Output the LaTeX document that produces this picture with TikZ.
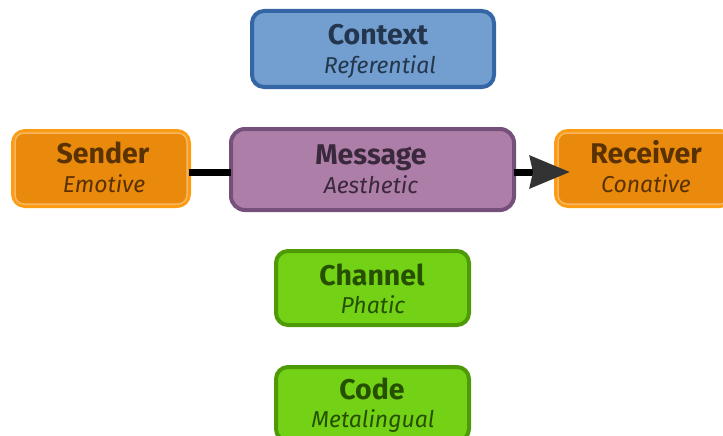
\documentclass[tikz,border=0pt]{standalone}
\usepackage{fontspec}
\setmainfont{Fira Sans}
\usetikzlibrary{arrows.meta,calc}
\definecolor{ctxfill}{RGB}{114,159,207}
\definecolor{ctxline}{RGB}{52,101,164}
\definecolor{ctxtext}{RGB}{36,54,78}
\definecolor{orfill}{RGB}{233,138,12}
\definecolor{orline}{RGB}{252,156,20}
\definecolor{orlight}{RGB}{248,182,96}
\definecolor{ortext}{RGB}{90,50,2}
\definecolor{msfill}{RGB}{173,127,168}
\definecolor{msline}{RGB}{117,80,123}
\definecolor{mstext}{RGB}{58,40,60}
\definecolor{grfill}{RGB}{115,210,22}
\definecolor{grline}{RGB}{78,154,6}
\definecolor{grtext}{RGB}{38,80,0}
\tikzset{
  x=1pt,y=1pt,
  box/.style={draw, line width=4pt, rounded corners=12pt, inner sep=0pt},
  ctxbox/.style={box, draw=ctxline, fill=ctxfill},
  orbox/.style={box, draw=orline, fill=orfill},
  msbox/.style={box, draw=msline, fill=msfill, rounded corners=14pt},
  grbox/.style={box, draw=grline, fill=grfill},
  inner/.style={draw=orlight, line width=1.5pt, rounded corners=9pt},
  ttl/.style={anchor=base, inner sep=0pt, font=\fontsize{28.5}{32}\selectfont\bfseries},
  sub/.style={anchor=base, inner sep=0pt, font=\fontsize{23}{27}\selectfont\itshape},
  conn/.style={line width=7pt, black},
}
\begin{document}
\begin{tikzpicture}
\useasboundingbox (0,0) rectangle (723,-436);
% boxes
\node[ctxbox, minimum width=242pt, minimum height=76pt] (context) at (373,-49) {};
\node[orbox, minimum width=176pt, minimum height=75pt] (sender) at (101,-168.5) {};
\draw[inner] ($(sender.south west)+(4,4)$) rectangle ($(sender.north east)+(-4,-4)$);
\node[msbox, minimum width=283pt, minimum height=81pt] (message) at (372.5,-169.5) {};
\node[orbox, minimum width=176pt, minimum height=75pt] (receiver) at (644,-168.5) {};
\draw[inner] ($(receiver.south west)+(4,4)$) rectangle ($(receiver.north east)+(-4,-4)$);
\node[grbox, minimum width=193pt, minimum height=74pt] (channel) at (372.5,-288) {};
\node[grbox, minimum width=193pt, minimum height=74pt] (code) at (372.5,-404) {};
% texts
\node[ttl, text=ctxtext] (contextT) at (378,-45) {Context};
\node[sub, text=ctxtext] (contextS) at (380,-74) {Referential};
\node[ttl, text=ortext] (senderT) at (103,-163) {Sender};
\node[sub, text=ortext] (senderS) at (104,-192) {Emotive};
\node[ttl, text=mstext] (messageT) at (371,-164) {Message};
\node[sub, text=mstext] (messageS) at (371,-193) {Aesthetic};
\node[ttl, text=ortext] (receiverT) at (646,-163) {Receiver};
\node[sub, text=ortext] (receiverS) at (646,-192) {Conative};
\node[ttl, text=grtext] (channelT) at (372,-285) {Channel};
\node[sub, text=grtext] (channelS) at (373,-313) {Phatic};
\node[ttl, text=grtext] (codeT) at (372,-399) {Code};
\node[sub, text=grtext] (codeS) at (373,-427) {Metalingual};
% connector
\coordinate (tip) at ($(receiver.west)+(16,-3.5)$);
\draw[conn] ($(sender.east)+(-2,-3.5)$) -- ($(message.west)+(2,-2.5)$);
\draw[conn, -{Stealth[length=40pt, width=32pt, inset=3pt, fill=black!80, color=black!80]}] ($(message.east)+(-2,-2.5)$) -- (tip);
\end{tikzpicture}
\end{document}
